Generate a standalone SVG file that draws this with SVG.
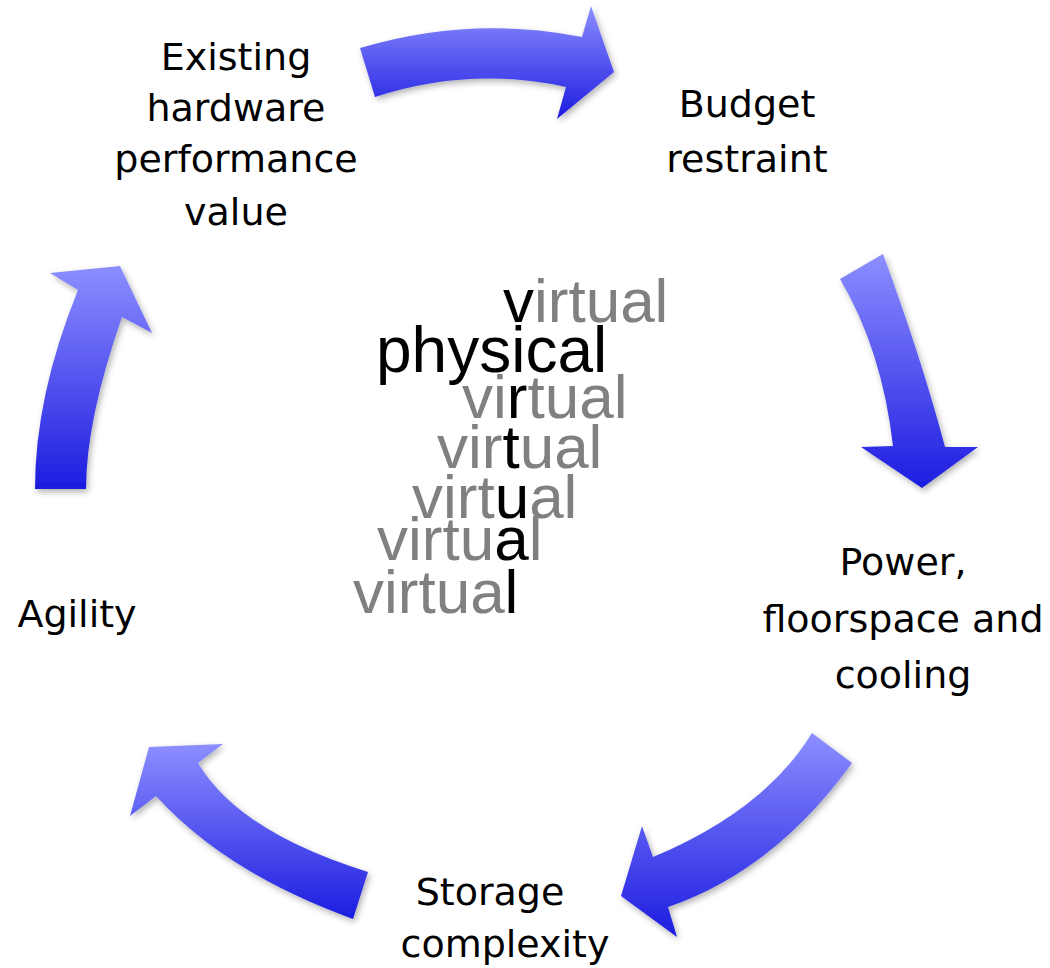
<svg xmlns="http://www.w3.org/2000/svg" width="1050" height="968" viewBox="0 0 1050 968">
<style>
.lbl{font-family:"DejaVu Sans","Noto Sans",sans-serif;font-size:38px;fill:#000;text-anchor:middle}
.v{font-family:"Liberation Sans",Arial,sans-serif;font-size:62px;fill:#808080}
.k{fill:#000}
.arr{fill:url(#g);filter:url(#sh)}
</style>
<defs>
<linearGradient id="g" x1="0" y1="0" x2="0" y2="1">
<stop offset="0" stop-color="#8c8eff"/>
<stop offset="1" stop-color="#1c1ce0"/>
</linearGradient>
<filter id="sh" x="-20%" y="-20%" width="140%" height="140%">
<feDropShadow dx="2" dy="3" stdDeviation="3" flood-color="#000" flood-opacity="0.3"/>
</filter>
</defs>
<rect width="1050" height="968" fill="#fff"/>
<g id="connectors">
<path class="arr" d="M360,48 Q471,15 582,37 L591,6 L614,72 L557,119 L566,87 Q470,66 375,97 Z"/>
<path class="arr" d="M840,279 L883,254 Q922,360 945,447 L978,447 L922,488 L861,447 L893,446 Q882,350 840,279 Z"/>
<path class="arr" d="M812,733 L852,763 Q775,870 668,907 L677,937 L621,896 L642,826 L653,857 Q765,810 812,733 Z"/>
<path class="arr" d="M353,919 L368,872 Q239,832 198,763 L223,744 L149,747 L130,816 L156,796 Q226,873 353,919 Z"/>
<path class="arr" d="M35,489 L86,489 Q86,420 122,317 L152,333 L120,266 L50,273 L78,290 Q35,396 35,489 Z"/>
</g>
<g id="existing"><text class="lbl"><tspan x="236" y="70">Existing</tspan><tspan x="236" y="121">hardware</tspan><tspan x="236" y="172">performance</tspan><tspan x="236" y="225">value</tspan></text></g>
<g id="budget"><text class="lbl"><tspan x="747" y="117">Budget</tspan><tspan x="747" y="172">restraint</tspan></text></g>
<g id="power"><text class="lbl"><tspan x="903" y="575">Power,</tspan><tspan x="903" y="632">floorspace and</tspan><tspan x="903" y="688">cooling</tspan></text></g>
<g id="storage"><text class="lbl"><tspan x="490" y="905">Storage</tspan><tspan x="505" y="957">complexity</tspan></text></g>
<g id="agility"><text class="lbl"><tspan x="77" y="627">Agility</tspan></text></g>
<g id="center">
<text class="v" x="503" y="322"><tspan class="k">v</tspan>irtual</text>
<text class="v k" x="376" y="372" style="font-size:64px">physical</text>
<text class="v" x="462" y="418">vi<tspan class="k">r</tspan>tual</text>
<text class="v" x="437" y="468">vir<tspan class="k">t</tspan>ual</text>
<text class="v" x="412" y="518">virt<tspan class="k">u</tspan>al</text>
<text class="v" x="377" y="560">virtu<tspan class="k">a</tspan>l</text>
<text class="v" x="353" y="613">virtua<tspan class="k">l</tspan></text>
</g>
</svg>
